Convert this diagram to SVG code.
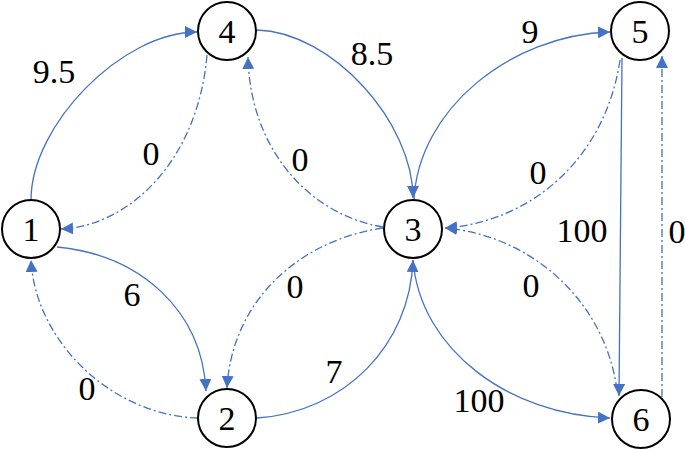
<svg xmlns="http://www.w3.org/2000/svg" width="685" height="449" viewBox="0 0 685 449">
<style>
.e{fill:none;stroke:#4472C4;stroke-width:1.3}
.d{stroke-dasharray:8 3 2 3}
.n circle{fill:#fff;stroke:#000;stroke-width:2}
</style>
<defs>
<marker id="a" viewBox="0 0 10 10" refX="10" refY="5" markerWidth="12" markerHeight="12" markerUnits="userSpaceOnUse" orient="auto">
<path d="M0,0 L10,5 L0,10 z" fill="#4472C4"/>
</marker>
</defs>
<g id="edges">
<path class="e" marker-end="url(#a)" d="M31,200 C31,125 122,32 197,32"/>
<path class="e d" marker-end="url(#a)" d="M207,55 C198,160 130,226 61,229"/>
<path class="e" marker-end="url(#a)" d="M257,30 C332,32 413,122 413,198"/>
<path class="e d" marker-end="url(#a)" d="M383,227 C310,215 250,150 248,57"/>
<path class="e d" marker-end="url(#a)" d="M383,228 C300,240 232,300 227,388"/>
<path class="e" marker-end="url(#a)" d="M57,247 C140,255 202,310 206,391"/>
<path class="e d" marker-end="url(#a)" d="M198,418 C110,415 35,340 31,260"/>
<path class="e" marker-end="url(#a)" d="M257,418 C345,412 410,345 413,260"/>
<path class="e" marker-end="url(#a)" d="M414,200 C418,110 510,35 610,32"/>
<path class="e d" marker-end="url(#a)" d="M620,60 C605,160 530,222 445,228"/>
<path class="e" marker-end="url(#a)" d="M622,58 L619,396"/>
<path class="e d" marker-end="url(#a)" d="M662,397 L662,56"/>
<path class="e d" marker-end="url(#a)" d="M617,390 C605,300 530,235 445,228"/>
<path class="e" marker-end="url(#a)" d="M413,260 C420,350 510,415 610,418"/>
</g>
<g id="labels" font-family="Liberation Serif, serif" font-size="34" text-anchor="middle" fill="#000">
<text x="54" y="83">9.5</text>
<text x="151" y="165">0</text>
<text x="300" y="171">0</text>
<text x="372" y="65">8.5</text>
<text x="530" y="43">9</text>
<text x="538" y="184">0</text>
<text x="582" y="242">100</text>
<text x="677" y="243">0</text>
<text x="531" y="297">0</text>
<text x="479" y="412">100</text>
<text x="132" y="306">6</text>
<text x="295" y="298">0</text>
<text x="334" y="383">7</text>
<text x="87" y="400">0</text>
</g>
<g font-family="Liberation Serif, serif" font-size="34" text-anchor="middle" fill="#000">
<g id="node1" class="n"><circle cx="31" cy="229" r="29"/><text x="31" y="241">1</text></g>
<g id="node2" class="n"><circle cx="227" cy="418" r="29"/><text x="227" y="430">2</text></g>
<g id="node3" class="n"><circle cx="413" cy="229" r="29"/><text x="413" y="241">3</text></g>
<g id="node4" class="n"><circle cx="227" cy="31" r="29"/><text x="227" y="43">4</text></g>
<g id="node5" class="n"><circle cx="640" cy="31" r="29"/><text x="640" y="43">5</text></g>
<g id="node6" class="n"><circle cx="641" cy="419" r="29"/><text x="641" y="431">6</text></g>
</g>
</svg>
